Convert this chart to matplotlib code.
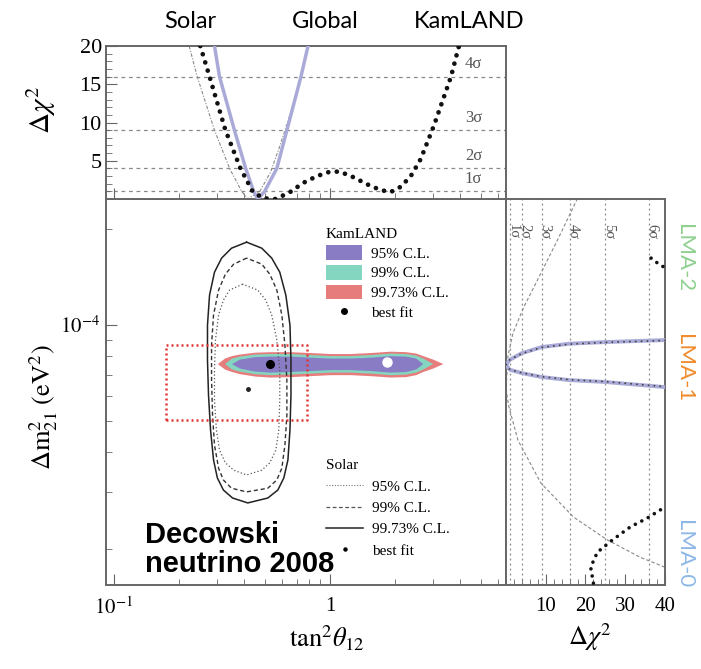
import numpy as np
import matplotlib.pyplot as plt
from matplotlib.lines import Line2D
from matplotlib.patches import Patch
from matplotlib.ticker import FixedLocator, MultipleLocator, NullFormatter

plt.rcParams['font.family'] = 'Liberation Serif'
plt.rcParams['mathtext.fontset'] = 'stix'

U = 1e-5  # dm2 values below are in units of 1e-5 eV^2

# ---- top panel: delta chi2 vs tan^2(theta12)
top_kam_t = [0.251, 0.277, 0.328, 0.385, 0.438, 0.49, 0.56, 0.652, 0.75, 0.87, 0.98, 1.10,
             1.25, 1.49, 1.70, 1.90, 2.12, 2.36, 2.62, 3.01, 3.62, 3.94]
top_kam_c = [20, 16, 9, 4, 1, 0.1, 0.0, 0.9, 2.1, 3.0, 3.5, 3.6,
             3.0, 1.9, 1.2, 0.9, 1.6, 3.0, 5.2, 9.5, 16.0, 20]
top_glob_t = [0.292, 0.308, 0.361, 0.407, 0.443, 0.463, 0.498, 0.567, 0.631, 0.733, 0.790]
top_glob_c = [20, 16, 9, 4, 1, 0, 1, 4, 9, 16, 20]
top_sol_t = [0.223, 0.243, 0.292, 0.343, 0.390, 0.416, 0.473, 0.53, 0.585, 0.652, 0.733, 0.79]
top_sol_c = [20, 16, 9, 4, 1, 0, 1, 3.5, 6.9, 11, 16, 20]

sig_lines = [1, 4, 9, 16]
sig_names = ['1σ', '2σ', '3σ', '4σ']
right_sig = [1, 4, 9, 16, 25, 36]
right_sig_names = ['1σ', '2σ', '3σ', '4σ', '5σ', '6σ']

# ---- right panel: delta chi2 vs dm2
r_glob_c = [40, 25, 16, 9, 4, 1, 0, 1, 4, 9, 16, 25, 40]
r_glob_m = [8.98, 8.85, 8.75, 8.54, 8.17, 7.8, 7.5, 7.25, 7.08, 6.88, 6.73, 6.64, 6.40]
r_kam1_c = [40, 25, 16, 9, 4, 1, 0, 1, 4, 9, 16, 25, 40]
r_kam1_m = [8.95, 8.83, 8.72, 8.52, 8.15, 7.8, 7.5, 7.26, 7.09, 6.90, 6.75, 6.66, 6.42]
r_kam0_c = [22, 21.3, 23, 26.8, 31.3, 35.5, 40]
r_kam0_m = [1.56, 1.75, 1.95, 2.13, 2.34, 2.49, 2.70]
r_kam2_c = [36.5, 38.5, 40.5]
r_kam2_m = [16.2, 15.5, 15.0]
r_sol_c = [18, 13, 8.75, 4.5, 1.75, 0.5, 0, 0.75, 3, 8.75, 17, 25.5, 33.75, 40]
r_sol_m = [24.9, 18.5, 14.5, 11.4, 9.44, 8.0, 6.3, 5.54, 4.37, 3.21, 2.51, 2.13, 1.88, 1.75]

# ---- main panel: KamLAND allowed regions (upper / lower edge at each tan^2 station)
kam_t = [0.301, 0.325, 0.350, 0.381, 0.448, 0.526, 0.652, 0.807, 1.0, 1.239, 1.535, 1.902,
         2.232, 2.485, 2.68, 2.98, 3.32]
kam95_hi = [7.58, 7.58, 7.58, 7.83, 7.97, 8.00, 8.00, 7.94, 7.89, 7.89, 7.94, 8.03, 8.00, 7.89, 7.58, 7.58, 7.58]
kam95_lo = [7.58, 7.58, 7.58, 7.34, 7.18, 7.13, 7.16, 7.21, 7.26, 7.26, 7.21, 7.13, 7.16, 7.29, 7.58, 7.58, 7.58]
kam99_hi = [7.58, 7.58, 7.89, 8.00, 8.12, 8.15, 8.15, 8.09, 8.03, 8.03, 8.09, 8.18, 8.15, 8.06, 7.89, 7.58, 7.58]
kam99_lo = [7.58, 7.58, 7.29, 7.18, 7.05, 7.00, 7.03, 7.08, 7.13, 7.13, 7.08, 7.00, 7.03, 7.13, 7.29, 7.58, 7.58]
kam997_hi = [7.58, 7.89, 8.03, 8.12, 8.23, 8.26, 8.26, 8.21, 8.15, 8.15, 8.21, 8.29, 8.26, 8.18, 8.03, 7.83, 7.58]
kam997_lo = [7.58, 7.29, 7.16, 7.05, 6.93, 6.88, 6.90, 6.95, 7.00, 7.00, 6.95, 6.88, 6.90, 7.00, 7.16, 7.34, 7.58]
kam_best = (0.526, 7.58)
kam_best2 = (1.84, 7.66)

# solar allowed regions (left / right tan^2 edge at each dm2 station)
sol997_m = [18.17, 17.40, 16.20, 14.64, 12.41, 10.0, 7.77, 6.04, 4.70, 3.79, 3.33, 3.05, 2.88, 2.78]
sol997_l = [0.411, 0.350, 0.315, 0.292, 0.277, 0.271, 0.271, 0.274, 0.280, 0.289, 0.301, 0.321, 0.354, 0.416]
sol997_r = [0.411, 0.483, 0.537, 0.585, 0.624, 0.652, 0.659, 0.659, 0.652, 0.638, 0.611, 0.573, 0.515, 0.416]
sol99_m = [16.20, 15.51, 14.43, 12.87, 10.75, 8.66, 6.73, 5.23, 4.22, 3.57, 3.28, 3.09, 3.01]
sol99_l = [0.411, 0.358, 0.328, 0.305, 0.289, 0.283, 0.283, 0.286, 0.292, 0.305, 0.321, 0.350, 0.411]
sol99_r = [0.411, 0.483, 0.526, 0.567, 0.598, 0.618, 0.631, 0.631, 0.618, 0.598, 0.567, 0.515, 0.411]
sol95_m = [13.43, 12.87, 11.97, 10.75, 8.98, 7.23, 5.83, 4.70, 4.07, 3.71, 3.52, 3.40]
sol95_l = [0.394, 0.343, 0.321, 0.305, 0.295, 0.292, 0.292, 0.298, 0.308, 0.328, 0.358, 0.411]
sol95_r = [0.394, 0.463, 0.504, 0.537, 0.567, 0.585, 0.585, 0.579, 0.561, 0.526, 0.483, 0.411]
sol_best = (0.416, 6.33)

box_t = [0.175, 0.78]
box_m = [5.05, 8.66]

XLIM = (0.092, 6.5)
YLIM = (1.54e-5, 2.48e-4)
C_PURPLE = '#8a7cc4'
C_GREEN = '#84d6c0'
C_RED = '#e77c7c'
C_GLOB = '#aaaad8'
C_GRID = '#8a8a8a'
C_FRAME = '#666666'

fig = plt.figure(figsize=(7.01, 6.69), dpi=100)
ax = fig.add_axes([0.1512, 0.1256, 0.5706, 0.5770])
axt = fig.add_axes([0.1512, 0.7025, 0.5706, 0.2287])
axr = fig.add_axes([0.7218, 0.1256, 0.2268, 0.5770])

for a in (ax, axt, axr):
    for s in a.spines.values():
        s.set_color(C_FRAME)
        s.set_linewidth(1.4)
    a.tick_params(which='both', direction='in', color=C_FRAME, labelsize=15)
    a.tick_params(which='major', length=8)
    a.tick_params(which='minor', length=4)

# ---------------- top panel
axt.set_xscale('log')
axt.set_xlim(XLIM)
axt.set_ylim(0, 20)
for v in sig_lines:
    axt.axhline(v, color=C_GRID, lw=0.9, ls=(0, (3, 3)), zorder=1)
for v, nm in zip(sig_lines, sig_names):
    axt.text(4.2, v + 0.6, nm, fontsize=12, color='#555555', ha='left', va='bottom')
axt.plot(top_sol_t, top_sol_c, color='#888888', lw=0.8, ls=(0, (3, 1.5, 1, 1.5)), zorder=2)
axt.plot(top_glob_t, top_glob_c, color=C_GLOB, lw=2.5, zorder=3)
axt.plot(top_kam_t, top_kam_c, color='#111111', lw=3.4, ls=(0, (0.01, 1.8)),
         dash_capstyle='round', zorder=4)
axt.yaxis.set_major_locator(FixedLocator([5, 10, 15, 20]))
axt.yaxis.set_minor_locator(MultipleLocator(1))
axt.tick_params(axis='y', labelsize=16, pad=3)
axt.xaxis.set_major_formatter(NullFormatter())
axt.xaxis.set_minor_formatter(NullFormatter())
axt.set_ylabel(r'$\Delta\chi^2$', fontsize=21)
axt.yaxis.set_label_coords(-0.12, 0.58)

# ---------------- main panel
ax.set_xscale('log')
ax.set_yscale('log')
ax.set_xlim(XLIM)
ax.set_ylim(YLIM)
kt = np.array(kam_t)
ax.fill_between(kt, np.array(kam997_lo) * U, np.array(kam997_hi) * U, color=C_RED, lw=0, zorder=2)
ax.fill_between(kt, np.array(kam99_lo) * U, np.array(kam99_hi) * U, color=C_GREEN, lw=0, zorder=3)
ax.fill_between(kt, np.array(kam95_lo) * U, np.array(kam95_hi) * U, color=C_PURPLE, lw=0, zorder=4)

for m, l, r, st, lw, col in [(sol95_m, sol95_l, sol95_r, (0, (1, 1.8)), 0.9, '#555555'),
                             (sol99_m, sol99_l, sol99_r, (0, (3, 2)), 1.0, '#333333'),
                             (sol997_m, sol997_l, sol997_r, '-', 1.1, '#222222')]:
    xs = list(l) + list(r)[::-1]
    ys = (np.array(list(m) + list(m)[::-1])) * U
    ax.plot(xs, ys, color=col, lw=lw, ls=st, zorder=5)

ax.plot([box_t[0], box_t[1], box_t[1], box_t[0], box_t[0]],
        np.array([box_m[0], box_m[0], box_m[1], box_m[1], box_m[0]]) * U,
        color='#e03535', lw=1.8, ls=(0, (0.8, 1.2)), zorder=6)

ax.plot(kam_best[0], kam_best[1] * U, 'o', color='black', ms=5.5, zorder=7)
ax.plot(kam_best2[0], kam_best2[1] * U, 'o', color='white', ms=6.5, zorder=7)
ax.plot(sol_best[0], sol_best[1] * U, 'o', color='#222222', ms=2.5, zorder=7)

ax.xaxis.set_major_locator(FixedLocator([0.1, 1]))
ax.set_xticklabels([r'$10^{-1}$', '1'])
ax.yaxis.set_major_locator(FixedLocator([1e-4]))
ax.set_yticklabels([r'$10^{-4}$'])
ax.yaxis.set_minor_formatter(NullFormatter())
ax.xaxis.set_minor_formatter(NullFormatter())
ax.tick_params(axis='x', pad=9)
ax.tick_params(axis='y', pad=4)
ax.set_xlabel(r'$\mathrm{tan}^2\theta_{12}$', fontsize=19)
ax.xaxis.set_label_coords(0.553, -0.10)
ax.set_ylabel(r'$\Delta\mathrm{m}^2_{21}\ (\mathrm{eV}^2)$', fontsize=19)
ax.yaxis.set_label_coords(-0.115, 0.46)

kam_handles = [Patch(facecolor=C_PURPLE, edgecolor='none'),
               Patch(facecolor=C_GREEN, edgecolor='none'),
               Patch(facecolor=C_RED, edgecolor='none'),
               Line2D([], [], ls='none', marker='o', ms=4, color='black')]
leg1 = ax.legend(kam_handles, ['95% C.L.', '99% C.L.', '99.73% C.L.', 'best fit'],
                 title='KamLAND', loc='upper left', bbox_to_anchor=(0.53, 0.945),
                 frameon=False, fontsize=11, title_fontsize=11, handlelength=2.4,
                 handleheight=1.1, labelspacing=0.28, handletextpad=0.6, borderpad=0,
                 alignment='left')
ax.add_artist(leg1)
sol_handles = [Line2D([], [], color='#777777', lw=0.8, ls=(0, (1, 1.5))),
               Line2D([], [], color='#555555', lw=0.9, ls=(0, (3, 2))),
               Line2D([], [], color='#222222', lw=1.1),
               Line2D([], [], ls='none', marker='o', ms=2.2, color='black')]
ax.legend(sol_handles, ['95% C.L.', '99% C.L.', '99.73% C.L.', 'best fit'],
          title='Solar', loc='upper left', bbox_to_anchor=(0.532, 0.345),
          frameon=False, fontsize=11, title_fontsize=11, handlelength=2.4,
          labelspacing=0.5, handletextpad=0.6, borderpad=0, alignment='left')

ax.text(0.0975, 0.018, 'Decowski\nneutrino 2008', transform=ax.transAxes,
        fontfamily='Liberation Sans', fontweight='bold', fontsize=21,
        ha='left', va='bottom', linespacing=1.05, zorder=8)

# ---------------- right panel
axr.set_yscale('log')
axr.set_ylim(YLIM)
axr.set_xlim(0, 40)
for v, nm in zip(right_sig, right_sig_names):
    axr.axvline(v, color=C_GRID, lw=0.9, ls=(0, (1.5, 2.5)), zorder=1)
    axr.text(v + 0.8, 0.915, nm, transform=axr.get_xaxis_transform(), rotation=-90,
             fontsize=10.5, color='#555555', ha='center', va='center')
axr.plot(r_sol_c, np.array(r_sol_m) * U, color='#888888', lw=0.8, ls=(0, (3, 2)), zorder=2)
axr.plot(r_glob_c, np.array(r_glob_m) * U, color=C_GLOB, lw=2.8, zorder=3)
axr.plot(r_kam1_c, np.array(r_kam1_m) * U, color='#444444', lw=1.4, ls=(0, (0.01, 3.0)),
         dash_capstyle='round', zorder=4)
for c, m in [(r_kam0_c, r_kam0_m), (r_kam2_c, r_kam2_m)]:
    axr.plot(c, np.array(m) * U, color='#111111', lw=2.6, ls=(0, (0.01, 2.0)),
             dash_capstyle='round', zorder=4)
axr.xaxis.set_major_locator(FixedLocator([10, 20, 30, 40]))
axr.xaxis.set_minor_locator(MultipleLocator(2))
axr.tick_params(axis='x', pad=9)
axr.yaxis.set_major_formatter(NullFormatter())
axr.yaxis.set_minor_formatter(NullFormatter())
axr.tick_params(axis='y', which='both', left=False)
axr.set_xlabel(r'$\Delta\chi^2$', fontsize=19)
axr.xaxis.set_label_coords(0.53, -0.095)

# ---------------- headings and region labels
for x, s in [(0.271, 'Solar'), (0.464, 'Global'), (0.670, 'KamLAND')]:
    fig.text(x, 0.968, s, fontfamily='Lato', fontsize=17, ha='center', va='center')
for y, s, col in [(0.614, 'LMA-2', '#8fd08f'), (0.450, 'LMA-1', '#f08c2c'),
                  (0.172, 'LMA-0', '#8db8e6')]:
    fig.text(0.976, y, s, fontfamily='Lato', fontsize=16, color=col, rotation=-90,
             ha='center', va='center')

fig.savefig('out.png', dpi=100)
